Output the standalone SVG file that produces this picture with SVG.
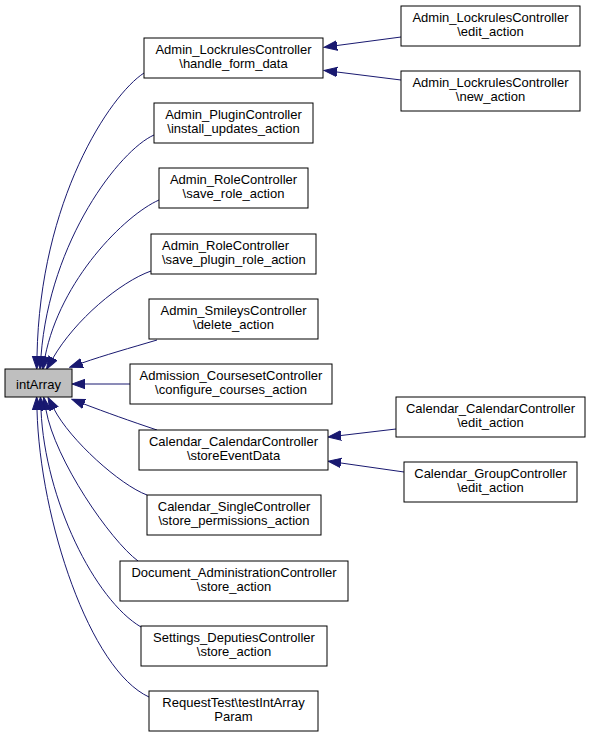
<svg xmlns="http://www.w3.org/2000/svg" width="591" height="737" viewBox="0 0 591 737">
<style>
.n rect{fill:#ffffff;stroke:#000000;stroke-width:1}
.n text{font-family:"Liberation Sans",Arial,sans-serif;font-size:13px;fill:#000000;text-anchor:middle}
.e path{fill:none;stroke:#191970;stroke-width:1;marker-end:url(#ah)}
</style>
<defs>
<marker id="ah" markerUnits="userSpaceOnUse" markerWidth="14" markerHeight="12" refX="0" refY="5" orient="auto" viewBox="0 0 14 10">
<path d="M0,0.3 L13,5 L0,9.7 z" fill="#191970" stroke="#191970" stroke-width="1"/>
</marker>
</defs>
<rect width="591" height="737" fill="#ffffff"/>
<g id="connectors" class="e">
<path d="M144,73 C110,95 40,200 37,356"/>
<path d="M154,135 C120,150 50,240 41,356"/>
<path d="M159,200 C125,215 60,280 45,357"/>
<path d="M151,271 C120,282 75,320 53,358"/>
<path d="M157,340 C130,348 105,355 82,363"/>
<path d="M130,384 L85,384"/>
<path d="M157,430 C130,421 105,412 84,404"/>
<path d="M147,495 C120,485 70,440 54,409"/>
<path d="M138,561 C110,540 55,460 46,410"/>
<path d="M141,627 C95,600 45,500 41,410"/>
<path d="M149,697 C90,670 40,520 37,410"/>
<path d="M401,37 L337,45.5"/>
<path d="M401,80 L337,72"/>
<path d="M396,429 L341,435.5"/>
<path d="M404,472 L341,463"/>
</g>
<g id="intArray" class="n"><rect x="5" y="369" width="67" height="28" style="fill:#bfbfbf"/><text x="38.5" y="389">intArray</text></g>
<g id="n1" class="n"><rect x="144" y="38" width="179" height="40"/><text x="233.5" y="54">Admin_LockrulesController</text><text x="233.5" y="68">\handle_form_data</text></g>
<g id="n2" class="n"><rect x="154" y="103" width="159" height="40"/><text x="233.5" y="119">Admin_PluginController</text><text x="233.5" y="133">\install_updates_action</text></g>
<g id="n3" class="n"><rect x="159" y="168" width="149" height="40"/><text x="233.5" y="184">Admin_RoleController</text><text x="233.5" y="198">\save_role_action</text></g>
<g id="n4" class="n"><rect x="151" y="234" width="165" height="40"/><text x="162" y="250" style="text-anchor:start">Admin_RoleController</text><text x="162" y="264" style="text-anchor:start">\save_plugin_role_action</text></g>
<g id="n5" class="n"><rect x="149" y="299" width="169" height="40"/><text x="233.5" y="315">Admin_SmileysController</text><text x="233.5" y="329">\delete_action</text></g>
<g id="n6" class="n"><rect x="130" y="364" width="202" height="40"/><text x="231" y="380">Admission_CoursesetController</text><text x="231" y="394">\configure_courses_action</text></g>
<g id="n7" class="n"><rect x="139" y="430" width="189" height="40"/><text x="233.5" y="446">Calendar_CalendarController</text><text x="233.5" y="460">\storeEventData</text></g>
<g id="n8" class="n"><rect x="147" y="495" width="174" height="40"/><text x="234" y="511">Calendar_SingleController</text><text x="234" y="525">\store_permissions_action</text></g>
<g id="n9" class="n"><rect x="120" y="561" width="228" height="40"/><text x="234" y="577">Document_AdministrationController</text><text x="234" y="591">\store_action</text></g>
<g id="n10" class="n"><rect x="141" y="626" width="186" height="40"/><text x="234" y="642">Settings_DeputiesController</text><text x="234" y="656">\store_action</text></g>
<g id="n11" class="n"><rect x="149" y="691" width="169" height="40"/><text x="233.5" y="707">RequestTest\testIntArray</text><text x="233.5" y="721">Param</text></g>
<g id="n12" class="n"><rect x="401" y="6" width="179" height="40"/><text x="490.5" y="22">Admin_LockrulesController</text><text x="490.5" y="36">\edit_action</text></g>
<g id="n13" class="n"><rect x="401" y="71" width="179" height="40"/><text x="490.5" y="87">Admin_LockrulesController</text><text x="490.5" y="101">\new_action</text></g>
<g id="n14" class="n"><rect x="396" y="397" width="189" height="40"/><text x="490.5" y="413">Calendar_CalendarController</text><text x="490.5" y="427">\edit_action</text></g>
<g id="n15" class="n"><rect x="404" y="462" width="173" height="40"/><text x="490.5" y="478">Calendar_GroupController</text><text x="490.5" y="492">\edit_action</text></g>
</svg>
